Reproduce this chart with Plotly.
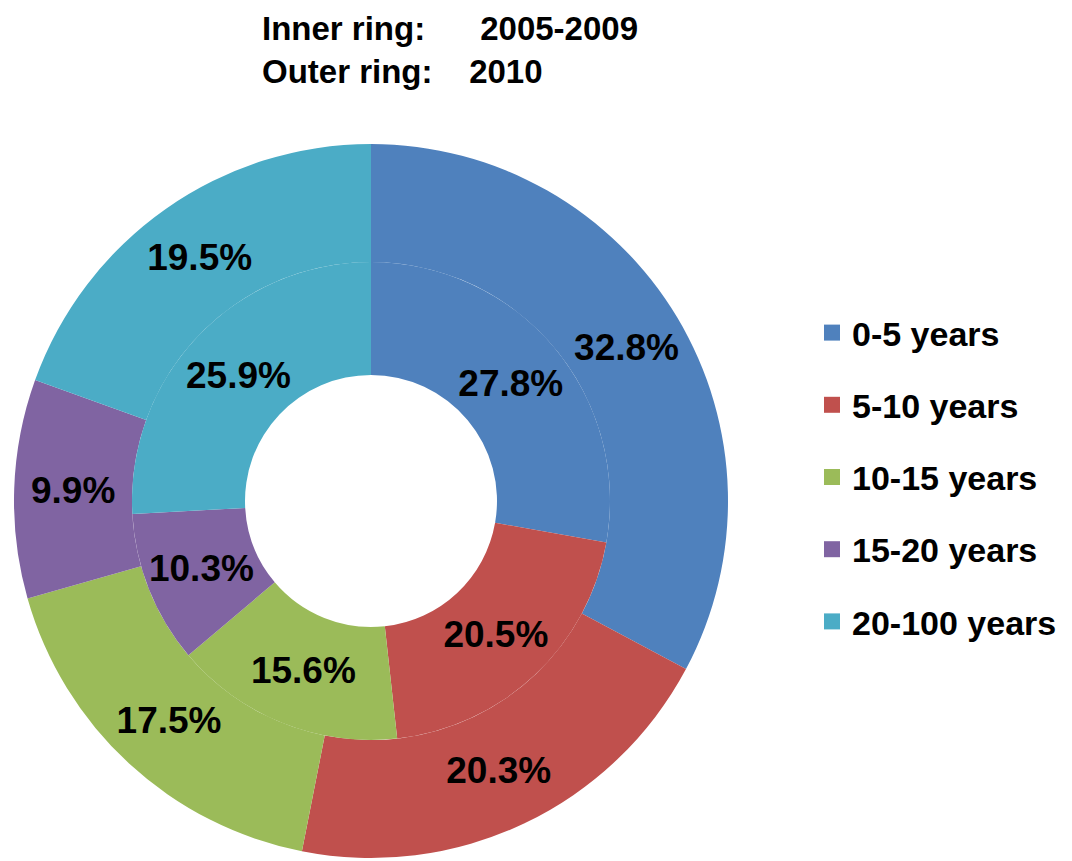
import plotly.graph_objects as go

categories = ["0-5 years", "5-10 years", "10-15 years", "15-20 years", "20-100 years"]
inner_2005_2009 = [27.8, 20.5, 15.6, 10.3, 25.9]
outer_2010 = [32.8, 20.3, 17.5, 9.9, 19.5]
colors = ["#4F81BD", "#C0504D", "#9BBB59", "#8064A2", "#4BACC6"]

# page has an 8px body margin; work in figure pixel space
W, H = 1064, 853
FONT = "Liberation Sans, Arial, sans-serif"

def dom(cx, cy, r):
    return dict(x=[(cx - r) / W, (cx + r) / W], y=[1 - (cy + r) / H, 1 - (cy - r) / H])

cx, cy = 363, 493
R_out, R_mid, R_hole = 357, 239, 126

fig = go.Figure()
fig.add_trace(go.Pie(
    labels=categories, values=outer_2010, sort=False, direction="clockwise", rotation=0,
    hole=R_mid / R_out, domain=dom(cx, cy, R_out),
    marker=dict(colors=colors, line=dict(width=0)),
    texttemplate="%{value:.1f}%", textposition="inside", insidetextorientation="horizontal",
    textfont=dict(family=FONT, size=37, color="black", weight="bold"),
    showlegend=False, hoverinfo="label+value"))
fig.add_trace(go.Pie(
    labels=categories, values=inner_2005_2009, sort=False, direction="clockwise", rotation=0,
    hole=R_hole / R_mid, domain=dom(cx, cy, R_mid),
    marker=dict(colors=colors, line=dict(width=0)),
    texttemplate="%{value:.1f}%", textposition="inside", insidetextorientation="horizontal",
    textfont=dict(family=FONT, size=37, color="black", weight="bold"),
    showlegend=False, hoverinfo="label+value"))

for lab, col in zip(categories, colors):
    fig.add_trace(go.Scatter(x=[None], y=[None], mode="markers", name=lab, legendgroup=lab,
                             marker=dict(symbol="square", size=16, color=col)))

nb = "\u00a0"
fig.add_annotation(
    text="Inner ring:" + nb * 6 + "2005-2009<br>Outer ring:" + nb * 4 + "2010",
    xref="paper", yref="paper", x=252 / W, y=1, xanchor="left", yanchor="top",
    align="left", showarrow=False,
    font=dict(family=FONT, size=33, color="black", weight="bold"))

fig.update_layout(
    width=W, height=H, margin=dict(l=0, r=0, t=0, b=0),
    paper_bgcolor="white", plot_bgcolor="white",
    xaxis=dict(visible=False), yaxis=dict(visible=False),
    legend=dict(x=804 / W, y=1 - 296 / H, xanchor="left", yanchor="top",
                font=dict(family=FONT, size=34, color="black", weight="bold"),
                traceorder="grouped", tracegroupgap=25, itemsizing="trace",
                bgcolor="rgba(0,0,0,0)"),
)

fig.write_html("out.html")
